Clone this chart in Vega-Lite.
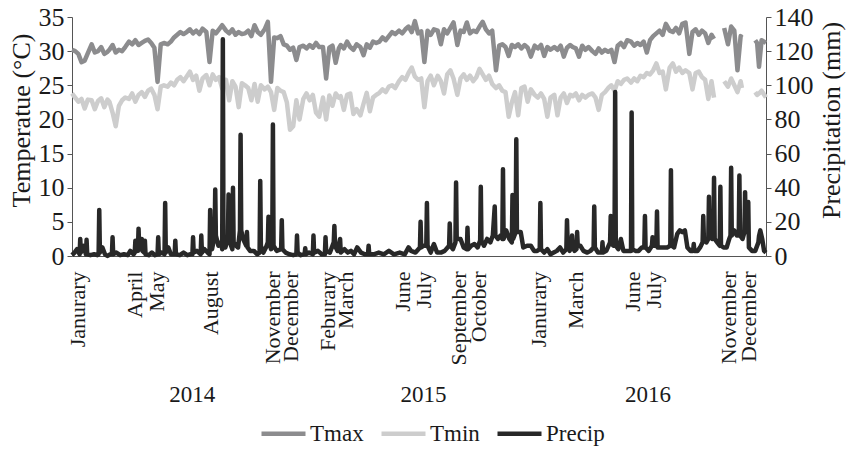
{
 "$schema": "https://vega.github.io/schema/vega-lite/v6.json",
 "width": 694,
 "height": 239,
 "autosize": {"type": "none"},
 "padding": {"left": 72, "top": 17, "right": 85, "bottom": 193},
 "background": "white",
 "config": {
  "view": {"stroke": null},
  "font": "Liberation Serif",
  "axis": {"labelFont": "Liberation Serif", "titleFont": "Liberation Serif", "labelColor": "#1a1a1a", "titleColor": "#1a1a1a", "titleFontWeight": "normal", "domainColor": "#555555", "tickColor": "#555555", "grid": false},
  "legend": {"labelFont": "Liberation Serif", "labelFontSize": 23, "labelColor": "#1a1a1a"}
 },
 "datasets": {
  "temp": [
   {"date":"2014-01-01","Tmax":30.2,"Tmin":23.8},{"date":"2014-01-06","Tmax":30.0,"Tmin":23.2},{"date":"2014-01-11","Tmax":29.6,"Tmin":22.6},{"date":"2014-01-16","Tmax":28.4,"Tmin":23.0},{"date":"2014-01-21","Tmax":28.6,"Tmin":21.6},{"date":"2014-01-26","Tmax":29.7,"Tmin":22.9},
   {"date":"2014-02-01","Tmax":31.0,"Tmin":22.8},{"date":"2014-02-06","Tmax":29.8,"Tmin":21.5},{"date":"2014-02-11","Tmax":30.0,"Tmin":22.7},{"date":"2014-02-16","Tmax":30.6,"Tmin":23.1},{"date":"2014-02-21","Tmax":29.6,"Tmin":21.8},{"date":"2014-02-26","Tmax":29.9,"Tmin":22.9},
   {"date":"2014-03-01","Tmax":30.2,"Tmin":22.6},{"date":"2014-03-06","Tmax":30.9,"Tmin":21.0},{"date":"2014-03-11","Tmax":29.8,"Tmin":19.0},{"date":"2014-03-16","Tmax":30.2,"Tmin":22.0},{"date":"2014-03-21","Tmax":30.0,"Tmin":22.8},{"date":"2014-03-26","Tmax":30.6,"Tmin":23.2},
   {"date":"2014-04-01","Tmax":31.4,"Tmin":23.0},{"date":"2014-04-06","Tmax":31.0,"Tmin":23.8},{"date":"2014-04-11","Tmax":31.6,"Tmin":22.6},{"date":"2014-04-16","Tmax":30.9,"Tmin":23.6},{"date":"2014-04-21","Tmax":31.2,"Tmin":24.0},{"date":"2014-04-26","Tmax":31.5,"Tmin":23.3},
   {"date":"2014-05-01","Tmax":31.7,"Tmin":24.2},{"date":"2014-05-06","Tmax":31.2,"Tmin":24.5},{"date":"2014-05-11","Tmax":30.5,"Tmin":23.6},{"date":"2014-05-16","Tmax":25.5,"Tmin":21.5},{"date":"2014-05-21","Tmax":31.0,"Tmin":24.8},{"date":"2014-05-26","Tmax":31.2,"Tmin":25.0},
   {"date":"2014-06-01","Tmax":31.0,"Tmin":24.8},{"date":"2014-06-06","Tmax":31.4,"Tmin":25.4},{"date":"2014-06-11","Tmax":32.0,"Tmin":25.0},{"date":"2014-06-16","Tmax":32.4,"Tmin":25.8},{"date":"2014-06-21","Tmax":32.8,"Tmin":26.2},{"date":"2014-06-26","Tmax":32.5,"Tmin":25.6},
   {"date":"2014-07-01","Tmax":32.8,"Tmin":26.3},{"date":"2014-07-06","Tmax":33.2,"Tmin":27.0},{"date":"2014-07-11","Tmax":32.6,"Tmin":25.8},{"date":"2014-07-16","Tmax":33.0,"Tmin":26.4},{"date":"2014-07-21","Tmax":32.5,"Tmin":24.2},{"date":"2014-07-26","Tmax":33.3,"Tmin":26.0},
   {"date":"2014-08-01","Tmax":32.8,"Tmin":26.5},{"date":"2014-08-06","Tmax":28.4,"Tmin":25.0},{"date":"2014-08-11","Tmax":33.0,"Tmin":26.6},{"date":"2014-08-16","Tmax":32.6,"Tmin":25.8},{"date":"2014-08-21","Tmax":33.2,"Tmin":26.2},{"date":"2014-08-26","Tmax":33.8,"Tmin":24.5},
   {"date":"2014-09-01","Tmax":33.0,"Tmin":25.8},{"date":"2014-09-06","Tmax":32.6,"Tmin":22.8},{"date":"2014-09-11","Tmax":33.2,"Tmin":25.6},{"date":"2014-09-16","Tmax":32.4,"Tmin":24.8},{"date":"2014-09-21","Tmax":32.8,"Tmin":21.8},{"date":"2014-09-26","Tmax":32.5,"Tmin":25.3},
   {"date":"2014-10-01","Tmax":32.6,"Tmin":25.0},{"date":"2014-10-06","Tmax":33.0,"Tmin":24.6},{"date":"2014-10-11","Tmax":32.2,"Tmin":22.8},{"date":"2014-10-16","Tmax":33.8,"Tmin":25.2},{"date":"2014-10-21","Tmax":32.8,"Tmin":22.6},{"date":"2014-10-26","Tmax":32.4,"Tmin":25.0},
   {"date":"2014-11-01","Tmax":33.2,"Tmin":24.4},{"date":"2014-11-06","Tmax":34.3,"Tmin":24.8},{"date":"2014-11-11","Tmax":25.5,"Tmin":24.0},{"date":"2014-11-16","Tmax":32.0,"Tmin":21.4},{"date":"2014-11-21","Tmax":31.9,"Tmin":24.6},{"date":"2014-11-26","Tmax":32.2,"Tmin":24.2},
   {"date":"2014-12-01","Tmax":31.0,"Tmin":24.0},{"date":"2014-12-06","Tmax":30.8,"Tmin":22.5},{"date":"2014-12-11","Tmax":30.2,"Tmin":18.5},{"date":"2014-12-16","Tmax":30.5,"Tmin":19.0},{"date":"2014-12-21","Tmax":28.7,"Tmin":22.8},{"date":"2014-12-26","Tmax":30.6,"Tmin":20.0},
   {"date":"2015-01-01","Tmax":30.8,"Tmin":23.0},{"date":"2015-01-06","Tmax":30.4,"Tmin":23.8},{"date":"2015-01-11","Tmax":30.9,"Tmin":22.8},{"date":"2015-01-16","Tmax":30.5,"Tmin":23.6},{"date":"2015-01-21","Tmax":31.2,"Tmin":21.0},{"date":"2015-01-26","Tmax":30.6,"Tmin":20.4},
   {"date":"2015-02-01","Tmax":30.6,"Tmin":23.2},{"date":"2015-02-06","Tmax":26.0,"Tmin":20.0},{"date":"2015-02-11","Tmax":30.5,"Tmin":23.5},{"date":"2015-02-16","Tmax":30.8,"Tmin":22.0},{"date":"2015-02-21","Tmax":28.3,"Tmin":23.8},{"date":"2015-02-26","Tmax":30.4,"Tmin":23.2},
   {"date":"2015-03-01","Tmax":30.9,"Tmin":23.4},{"date":"2015-03-06","Tmax":30.4,"Tmin":21.4},{"date":"2015-03-11","Tmax":31.4,"Tmin":23.6},{"date":"2015-03-16","Tmax":30.6,"Tmin":23.8},{"date":"2015-03-21","Tmax":30.2,"Tmin":20.8},{"date":"2015-03-26","Tmax":31.0,"Tmin":21.5},
   {"date":"2015-04-01","Tmax":30.6,"Tmin":20.6},{"date":"2015-04-06","Tmax":29.4,"Tmin":22.3},{"date":"2015-04-11","Tmax":31.0,"Tmin":23.9},{"date":"2015-04-16","Tmax":30.5,"Tmin":21.2},{"date":"2015-04-21","Tmax":31.4,"Tmin":23.2},{"date":"2015-04-26","Tmax":31.2,"Tmin":23.6},
   {"date":"2015-05-01","Tmax":31.4,"Tmin":23.9},{"date":"2015-05-06","Tmax":32.0,"Tmin":24.4},{"date":"2015-05-11","Tmax":31.6,"Tmin":24.0},{"date":"2015-05-16","Tmax":32.2,"Tmin":24.8},{"date":"2015-05-21","Tmax":32.8,"Tmin":25.0},{"date":"2015-05-26","Tmax":32.5,"Tmin":24.6},
   {"date":"2015-06-01","Tmax":33.0,"Tmin":25.6},{"date":"2015-06-06","Tmax":32.6,"Tmin":26.2},{"date":"2015-06-11","Tmax":33.2,"Tmin":25.8},{"date":"2015-06-16","Tmax":33.6,"Tmin":26.8},{"date":"2015-06-21","Tmax":32.8,"Tmin":27.6},{"date":"2015-06-26","Tmax":34.4,"Tmin":26.3},
   {"date":"2015-07-01","Tmax":32.6,"Tmin":25.8},{"date":"2015-07-06","Tmax":32.9,"Tmin":26.0},{"date":"2015-07-11","Tmax":28.4,"Tmin":21.8},{"date":"2015-07-16","Tmax":33.0,"Tmin":25.6},{"date":"2015-07-21","Tmax":32.4,"Tmin":26.4},{"date":"2015-07-26","Tmax":33.2,"Tmin":25.0},
   {"date":"2015-08-01","Tmax":33.0,"Tmin":26.4},{"date":"2015-08-06","Tmax":31.0,"Tmin":25.6},{"date":"2015-08-11","Tmax":33.2,"Tmin":23.8},{"date":"2015-08-16","Tmax":32.6,"Tmin":26.6},{"date":"2015-08-21","Tmax":33.4,"Tmin":27.2},{"date":"2015-08-26","Tmax":34.2,"Tmin":26.0},
   {"date":"2015-09-01","Tmax":30.9,"Tmin":23.6},{"date":"2015-09-06","Tmax":33.0,"Tmin":26.0},{"date":"2015-09-11","Tmax":32.8,"Tmin":26.6},{"date":"2015-09-16","Tmax":34.2,"Tmin":25.8},{"date":"2015-09-21","Tmax":32.6,"Tmin":26.4},{"date":"2015-09-26","Tmax":33.0,"Tmin":25.6},
   {"date":"2015-10-01","Tmax":32.8,"Tmin":26.2},{"date":"2015-10-06","Tmax":33.6,"Tmin":27.4},{"date":"2015-10-11","Tmax":34.3,"Tmin":26.6},{"date":"2015-10-16","Tmax":33.2,"Tmin":25.8},{"date":"2015-10-21","Tmax":32.6,"Tmin":26.4},{"date":"2015-10-26","Tmax":33.0,"Tmin":25.2},
   {"date":"2015-11-01","Tmax":27.2,"Tmin":24.6},{"date":"2015-11-06","Tmax":30.8,"Tmin":25.0},{"date":"2015-11-11","Tmax":31.0,"Tmin":24.2},{"date":"2015-11-16","Tmax":30.6,"Tmin":24.0},{"date":"2015-11-21","Tmax":29.3,"Tmin":20.4},{"date":"2015-11-26","Tmax":30.9,"Tmin":22.5},
   {"date":"2015-12-01","Tmax":30.6,"Tmin":24.0},{"date":"2015-12-06","Tmax":31.0,"Tmin":20.6},{"date":"2015-12-11","Tmax":30.4,"Tmin":24.6},{"date":"2015-12-16","Tmax":30.9,"Tmin":24.8},{"date":"2015-12-21","Tmax":30.5,"Tmin":22.6},{"date":"2015-12-26","Tmax":29.2,"Tmin":24.4},
   {"date":"2016-01-01","Tmax":30.8,"Tmin":23.6},{"date":"2016-01-06","Tmax":30.4,"Tmin":23.2},{"date":"2016-01-11","Tmax":30.9,"Tmin":23.8},{"date":"2016-01-16","Tmax":29.3,"Tmin":23.0},{"date":"2016-01-21","Tmax":30.6,"Tmin":20.4},{"date":"2016-01-26","Tmax":30.2,"Tmin":23.2},
   {"date":"2016-02-01","Tmax":30.6,"Tmin":23.6},{"date":"2016-02-06","Tmax":30.2,"Tmin":20.6},{"date":"2016-02-11","Tmax":30.8,"Tmin":23.2},{"date":"2016-02-16","Tmax":29.2,"Tmin":23.8},{"date":"2016-02-21","Tmax":30.5,"Tmin":22.4},{"date":"2016-02-26","Tmax":30.9,"Tmin":23.6},
   {"date":"2016-03-01","Tmax":30.6,"Tmin":23.4},{"date":"2016-03-06","Tmax":30.4,"Tmin":23.8},{"date":"2016-03-11","Tmax":29.2,"Tmin":22.8},{"date":"2016-03-16","Tmax":30.8,"Tmin":23.6},{"date":"2016-03-21","Tmax":30.2,"Tmin":23.2},{"date":"2016-03-26","Tmax":30.6,"Tmin":23.6},
   {"date":"2016-04-01","Tmax":30.0,"Tmin":23.8},{"date":"2016-04-06","Tmax":29.6,"Tmin":23.2},{"date":"2016-04-11","Tmax":30.4,"Tmin":21.4},{"date":"2016-04-16","Tmax":29.8,"Tmin":23.6},{"date":"2016-04-21","Tmax":30.2,"Tmin":24.0},{"date":"2016-04-26","Tmax":29.9,"Tmin":24.6},
   {"date":"2016-05-01","Tmax":30.2,"Tmin":25.0},{"date":"2016-05-06","Tmax":28.4,"Tmin":24.2},{"date":"2016-05-11","Tmax":30.8,"Tmin":25.6},{"date":"2016-05-16","Tmax":31.2,"Tmin":25.2},{"date":"2016-05-21","Tmax":30.6,"Tmin":25.8},{"date":"2016-05-26","Tmax":31.6,"Tmin":26.0},
   {"date":"2016-06-01","Tmax":31.4,"Tmin":25.4},{"date":"2016-06-06","Tmax":30.8,"Tmin":26.0},{"date":"2016-06-11","Tmax":31.2,"Tmin":25.6},{"date":"2016-06-16","Tmax":30.9,"Tmin":26.4},{"date":"2016-06-21","Tmax":31.4,"Tmin":26.2},{"date":"2016-06-26","Tmax":29.8,"Tmin":26.8},
   {"date":"2016-07-01","Tmax":31.6,"Tmin":26.6},{"date":"2016-07-06","Tmax":32.2,"Tmin":27.2},{"date":"2016-07-11","Tmax":32.6,"Tmin":28.2},{"date":"2016-07-16","Tmax":33.0,"Tmin":26.8},{"date":"2016-07-21","Tmax":32.4,"Tmin":27.0},{"date":"2016-07-26","Tmax":34.0,"Tmin":24.4},
   {"date":"2016-08-01","Tmax":33.0,"Tmin":27.6},{"date":"2016-08-06","Tmax":32.8,"Tmin":28.2},{"date":"2016-08-11","Tmax":33.4,"Tmin":27.0},{"date":"2016-08-16","Tmax":32.6,"Tmin":27.6},{"date":"2016-08-21","Tmax":34.0,"Tmin":26.8},{"date":"2016-08-26","Tmax":34.2,"Tmin":27.2},
   {"date":"2016-09-01","Tmax":29.6,"Tmin":26.8},{"date":"2016-09-06","Tmax":32.8,"Tmin":24.4},{"date":"2016-09-11","Tmax":33.2,"Tmin":26.8},{"date":"2016-09-16","Tmax":32.4,"Tmin":27.0},{"date":"2016-09-21","Tmax":33.0,"Tmin":26.2},{"date":"2016-09-26","Tmax":32.6,"Tmin":25.8},
   {"date":"2016-10-01","Tmax":31.2,"Tmin":23.0},{"date":"2016-10-06","Tmax":32.4,"Tmin":25.6},{"date":"2016-10-10","Tmax":31.8,"Tmin":23.2},{"date":"2016-10-11","Tmax":null,"Tmin":null},{"date":"2016-10-21","Tmax":null,"Tmin":null},{"date":"2016-10-26","Tmax":33.4,"Tmin":25.6},
   {"date":"2016-11-01","Tmax":31.0,"Tmin":24.8},{"date":"2016-11-06","Tmax":33.6,"Tmin":26.0},{"date":"2016-11-11","Tmax":33.0,"Tmin":25.0},{"date":"2016-11-16","Tmax":27.2,"Tmin":24.0},{"date":"2016-11-21","Tmax":32.2,"Tmin":25.6},{"date":"2016-11-23","Tmax":32.0,"Tmin":24.6},{"date":"2016-11-24","Tmax":null,"Tmin":null},
   {"date":"2016-12-13","Tmax":null,"Tmin":null},{"date":"2016-12-14","Tmax":31.6,"Tmin":24.0},{"date":"2016-12-17","Tmax":31.2,"Tmin":23.6},{"date":"2016-12-20","Tmax":27.7,"Tmin":23.8},{"date":"2016-12-24","Tmax":31.6,"Tmin":24.2},{"date":"2016-12-31","Tmax":31.2,"Tmin":23.2}
  ],
  "precip": [
   {"date":"2014-01-01","Precip":0.5},{"date":"2014-01-05","Precip":2},{"date":"2014-01-09","Precip":4},{"date":"2014-01-13","Precip":1},{"date":"2014-01-14","Precip":10},{"date":"2014-01-15","Precip":2},{"date":"2014-01-19","Precip":6},{"date":"2014-01-23","Precip":1},{"date":"2014-01-24","Precip":9.5},{"date":"2014-01-25","Precip":1},{"date":"2014-01-30","Precip":0.5},
   {"date":"2014-02-05","Precip":1},{"date":"2014-02-10","Precip":0.5},{"date":"2014-02-12","Precip":1},{"date":"2014-02-13","Precip":27},{"date":"2014-02-14","Precip":2},{"date":"2014-02-18","Precip":5},{"date":"2014-02-22","Precip":1},{"date":"2014-02-26","Precip":0},
   {"date":"2014-03-02","Precip":1},{"date":"2014-03-05","Precip":1},{"date":"2014-03-06","Precip":11},{"date":"2014-03-07","Precip":1},{"date":"2014-03-12","Precip":2},{"date":"2014-03-18","Precip":0.5},{"date":"2014-03-24","Precip":1},{"date":"2014-03-30","Precip":0.5},
   {"date":"2014-04-03","Precip":3},{"date":"2014-04-08","Precip":1},{"date":"2014-04-10","Precip":2},{"date":"2014-04-11","Precip":9},{"date":"2014-04-13","Precip":7},{"date":"2014-04-15","Precip":3},{"date":"2014-04-16","Precip":16},{"date":"2014-04-17","Precip":5},{"date":"2014-04-20","Precip":4},{"date":"2014-04-21","Precip":10},{"date":"2014-04-22","Precip":3},{"date":"2014-04-25","Precip":2},{"date":"2014-04-26","Precip":9},{"date":"2014-04-27","Precip":1},
   {"date":"2014-05-02","Precip":0.5},{"date":"2014-05-07","Precip":2},{"date":"2014-05-12","Precip":0.5},{"date":"2014-05-16","Precip":1},{"date":"2014-05-17","Precip":11},{"date":"2014-05-18","Precip":1},{"date":"2014-05-22","Precip":2},{"date":"2014-05-27","Precip":1},{"date":"2014-05-28","Precip":31},{"date":"2014-05-29","Precip":2},
   {"date":"2014-06-02","Precip":5},{"date":"2014-06-06","Precip":1},{"date":"2014-06-12","Precip":1},{"date":"2014-06-13","Precip":9},{"date":"2014-06-14","Precip":1},{"date":"2014-06-20","Precip":0.5},{"date":"2014-06-26","Precip":2},
   {"date":"2014-07-02","Precip":0.5},{"date":"2014-07-07","Precip":1},{"date":"2014-07-10","Precip":1},{"date":"2014-07-11","Precip":11},{"date":"2014-07-12","Precip":2},{"date":"2014-07-17","Precip":3},{"date":"2014-07-23","Precip":1},{"date":"2014-07-24","Precip":12},{"date":"2014-07-25","Precip":2},{"date":"2014-07-29","Precip":4},
   {"date":"2014-08-03","Precip":2},{"date":"2014-08-06","Precip":1},{"date":"2014-08-07","Precip":27},{"date":"2014-08-08","Precip":10},{"date":"2014-08-10","Precip":4},{"date":"2014-08-14","Precip":12},{"date":"2014-08-15","Precip":39},{"date":"2014-08-16","Precip":12},{"date":"2014-08-20","Precip":6},{"date":"2014-08-24","Precip":8},{"date":"2014-08-26","Precip":4},{"date":"2014-08-27","Precip":127},{"date":"2014-08-28","Precip":8},{"date":"2014-08-31","Precip":5},
   {"date":"2014-09-04","Precip":10},{"date":"2014-09-05","Precip":36},{"date":"2014-09-06","Precip":10},{"date":"2014-09-09","Precip":6},{"date":"2014-09-11","Precip":4},{"date":"2014-09-12","Precip":40},{"date":"2014-09-13","Precip":8},{"date":"2014-09-17","Precip":6},{"date":"2014-09-20","Precip":5},{"date":"2014-09-23","Precip":15},{"date":"2014-09-24","Precip":71},{"date":"2014-09-25","Precip":15},{"date":"2014-09-28","Precip":10},
   {"date":"2014-10-03","Precip":6},{"date":"2014-10-04","Precip":14},{"date":"2014-10-05","Precip":5},{"date":"2014-10-09","Precip":3},{"date":"2014-10-15","Precip":3},{"date":"2014-10-20","Precip":1},{"date":"2014-10-24","Precip":2},{"date":"2014-10-25","Precip":44},{"date":"2014-10-26","Precip":6},{"date":"2014-10-30","Precip":2},
   {"date":"2014-11-03","Precip":5},{"date":"2014-11-06","Precip":8},{"date":"2014-11-07","Precip":23},{"date":"2014-11-08","Precip":8},{"date":"2014-11-11","Precip":4},{"date":"2014-11-13","Precip":6},{"date":"2014-11-14","Precip":77},{"date":"2014-11-15","Precip":6},{"date":"2014-11-20","Precip":3},{"date":"2014-11-27","Precip":4},{"date":"2014-11-28","Precip":21},{"date":"2014-11-29","Precip":4},
   {"date":"2014-12-04","Precip":2},{"date":"2014-12-10","Precip":1},{"date":"2014-12-16","Precip":0.5},{"date":"2014-12-21","Precip":1},{"date":"2014-12-22","Precip":12},{"date":"2014-12-23","Precip":2},{"date":"2014-12-28","Precip":0.5},
   {"date":"2015-01-01","Precip":1},{"date":"2015-01-03","Precip":1},{"date":"2015-01-04","Precip":4.5},{"date":"2015-01-05","Precip":1},{"date":"2015-01-10","Precip":2},{"date":"2015-01-16","Precip":1},{"date":"2015-01-17","Precip":12},{"date":"2015-01-18","Precip":2},{"date":"2015-01-24","Precip":3},{"date":"2015-01-30","Precip":1},
   {"date":"2015-02-04","Precip":1},{"date":"2015-02-05","Precip":11},{"date":"2015-02-06","Precip":3},{"date":"2015-02-12","Precip":2},{"date":"2015-02-18","Precip":8},{"date":"2015-02-19","Precip":17.6},{"date":"2015-02-20","Precip":6},{"date":"2015-02-24","Precip":3},{"date":"2015-02-28","Precip":10},
   {"date":"2015-03-01","Precip":2},{"date":"2015-03-07","Precip":4},{"date":"2015-03-12","Precip":2},{"date":"2015-03-17","Precip":3},{"date":"2015-03-22","Precip":1},{"date":"2015-03-27","Precip":5},
   {"date":"2015-04-02","Precip":2},{"date":"2015-04-08","Precip":1},{"date":"2015-04-13","Precip":1},{"date":"2015-04-14","Precip":6},{"date":"2015-04-15","Precip":1},{"date":"2015-04-22","Precip":1},{"date":"2015-04-30","Precip":2},
   {"date":"2015-05-08","Precip":1},{"date":"2015-05-16","Precip":3},{"date":"2015-05-24","Precip":1},
   {"date":"2015-06-02","Precip":2},{"date":"2015-06-10","Precip":1},{"date":"2015-06-16","Precip":5},{"date":"2015-06-20","Precip":3},{"date":"2015-06-27","Precip":2},
   {"date":"2015-07-04","Precip":5},{"date":"2015-07-05","Precip":20},{"date":"2015-07-06","Precip":5},{"date":"2015-07-10","Precip":6},{"date":"2015-07-14","Precip":6},{"date":"2015-07-15","Precip":31},{"date":"2015-07-16","Precip":6},{"date":"2015-07-21","Precip":2},{"date":"2015-07-26","Precip":7},{"date":"2015-07-31","Precip":2},
   {"date":"2015-08-06","Precip":2},{"date":"2015-08-12","Precip":3},{"date":"2015-08-19","Precip":6},{"date":"2015-08-20","Precip":19},{"date":"2015-08-21","Precip":6},{"date":"2015-08-25","Precip":4},{"date":"2015-08-29","Precip":8},{"date":"2015-08-30","Precip":43},{"date":"2015-08-31","Precip":10},
   {"date":"2015-09-06","Precip":10},{"date":"2015-09-11","Precip":5},{"date":"2015-09-16","Precip":4},{"date":"2015-09-17","Precip":16.5},{"date":"2015-09-18","Precip":4},{"date":"2015-09-23","Precip":6},{"date":"2015-09-28","Precip":7},
   {"date":"2015-10-03","Precip":5},{"date":"2015-10-07","Precip":9},{"date":"2015-10-08","Precip":40.6},{"date":"2015-10-09","Precip":9},{"date":"2015-10-13","Precip":6},{"date":"2015-10-18","Precip":10},{"date":"2015-10-23","Precip":8},{"date":"2015-10-27","Precip":12},{"date":"2015-10-30","Precip":29},{"date":"2015-10-31","Precip":12},
   {"date":"2015-11-04","Precip":10},{"date":"2015-11-08","Precip":12},{"date":"2015-11-11","Precip":10},{"date":"2015-11-12","Precip":50.8},{"date":"2015-11-13","Precip":10},{"date":"2015-11-17","Precip":15},{"date":"2015-11-22","Precip":10},{"date":"2015-11-26","Precip":8},{"date":"2015-11-27","Precip":35.7},{"date":"2015-11-28","Precip":10},
   {"date":"2015-12-02","Precip":14},{"date":"2015-12-03","Precip":68.4},{"date":"2015-12-04","Precip":14},{"date":"2015-12-10","Precip":14},{"date":"2015-12-14","Precip":5},{"date":"2015-12-20","Precip":6},{"date":"2015-12-26","Precip":6},{"date":"2015-12-31","Precip":3},
   {"date":"2016-01-05","Precip":3},{"date":"2016-01-09","Precip":4},{"date":"2016-01-10","Precip":31},{"date":"2016-01-11","Precip":4},{"date":"2016-01-16","Precip":2},{"date":"2016-01-21","Precip":4},{"date":"2016-01-26","Precip":1},{"date":"2016-01-31","Precip":2},
   {"date":"2016-02-05","Precip":3},{"date":"2016-02-10","Precip":5},{"date":"2016-02-15","Precip":2},{"date":"2016-02-20","Precip":4},{"date":"2016-02-21","Precip":21},{"date":"2016-02-22","Precip":8},{"date":"2016-02-25","Precip":3},{"date":"2016-02-28","Precip":5},{"date":"2016-02-29","Precip":12},
   {"date":"2016-03-01","Precip":5},{"date":"2016-03-04","Precip":3},{"date":"2016-03-07","Precip":4},{"date":"2016-03-08","Precip":14},{"date":"2016-03-09","Precip":6},{"date":"2016-03-13","Precip":6},{"date":"2016-03-18","Precip":3},{"date":"2016-03-24","Precip":2},{"date":"2016-03-29","Precip":3},
   {"date":"2016-04-03","Precip":5},{"date":"2016-04-04","Precip":29},{"date":"2016-04-05","Precip":5},{"date":"2016-04-10","Precip":2},{"date":"2016-04-16","Precip":2},{"date":"2016-04-17","Precip":8},{"date":"2016-04-18","Precip":2},{"date":"2016-04-23","Precip":3},{"date":"2016-04-29","Precip":8},{"date":"2016-04-30","Precip":23.4},
   {"date":"2016-05-01","Precip":8},{"date":"2016-05-04","Precip":6},{"date":"2016-05-06","Precip":6},{"date":"2016-05-07","Precip":96},{"date":"2016-05-08","Precip":6},{"date":"2016-05-12","Precip":4},{"date":"2016-05-16","Precip":10},{"date":"2016-05-20","Precip":3},{"date":"2016-05-26","Precip":3},
   {"date":"2016-06-01","Precip":3},{"date":"2016-06-02","Precip":84},{"date":"2016-06-03","Precip":4},{"date":"2016-06-08","Precip":3},{"date":"2016-06-13","Precip":3},{"date":"2016-06-18","Precip":5},{"date":"2016-06-22","Precip":5},{"date":"2016-06-23","Precip":23.4},{"date":"2016-06-24","Precip":5},{"date":"2016-06-29","Precip":3},
   {"date":"2016-07-04","Precip":6},{"date":"2016-07-05","Precip":11},{"date":"2016-07-06","Precip":6},{"date":"2016-07-11","Precip":6},{"date":"2016-07-12","Precip":26},{"date":"2016-07-13","Precip":5},{"date":"2016-07-18","Precip":5},{"date":"2016-07-23","Precip":5},{"date":"2016-07-28","Precip":5},
   {"date":"2016-08-02","Precip":6},{"date":"2016-08-03","Precip":50.3},{"date":"2016-08-04","Precip":6},{"date":"2016-08-08","Precip":5},{"date":"2016-08-13","Precip":13},{"date":"2016-08-17","Precip":15},{"date":"2016-08-21","Precip":14},{"date":"2016-08-25","Precip":15},{"date":"2016-08-29","Precip":5},
   {"date":"2016-09-03","Precip":3},{"date":"2016-09-07","Precip":3},{"date":"2016-09-08","Precip":7},{"date":"2016-09-09","Precip":3},{"date":"2016-09-14","Precip":3},{"date":"2016-09-18","Precip":5},{"date":"2016-09-22","Precip":8},{"date":"2016-09-23","Precip":23.4},{"date":"2016-09-24","Precip":10},{"date":"2016-09-28","Precip":8},
   {"date":"2016-10-01","Precip":10},{"date":"2016-10-02","Precip":34.7},{"date":"2016-10-03","Precip":12},{"date":"2016-10-07","Precip":10},{"date":"2016-10-09","Precip":12},{"date":"2016-10-10","Precip":45.8},{"date":"2016-10-11","Precip":10},{"date":"2016-10-15","Precip":8},{"date":"2016-10-19","Precip":6},{"date":"2016-10-20","Precip":40.5},{"date":"2016-10-21","Precip":6},{"date":"2016-10-25","Precip":5},{"date":"2016-10-30","Precip":5},
   {"date":"2016-11-03","Precip":10},{"date":"2016-11-05","Precip":12},{"date":"2016-11-06","Precip":51.7},{"date":"2016-11-07","Precip":12},{"date":"2016-11-11","Precip":15},{"date":"2016-11-15","Precip":12},{"date":"2016-11-18","Precip":12},{"date":"2016-11-19","Precip":47.2},{"date":"2016-11-20","Precip":12},{"date":"2016-11-24","Precip":10},{"date":"2016-11-27","Precip":14},{"date":"2016-11-28","Precip":37.4},{"date":"2016-11-29","Precip":14},
   {"date":"2016-12-02","Precip":14},{"date":"2016-12-03","Precip":31.6},{"date":"2016-12-04","Precip":5},{"date":"2016-12-09","Precip":3},{"date":"2016-12-14","Precip":3},{"date":"2016-12-19","Precip":8},{"date":"2016-12-20","Precip":11.7},{"date":"2016-12-22","Precip":15},{"date":"2016-12-25","Precip":10},{"date":"2016-12-28","Precip":3},{"date":"2016-12-31","Precip":2}
  ]
 },
 "layer": [
  {
   "data": {"name": "temp"},
   "transform": [{"fold": ["Tmax", "Tmin"], "as": ["series", "value"]}],
   "mark": {"type": "line", "strokeWidth": 4.5, "strokeJoin": "round"},
   "encoding": {
    "x": {"field": "date", "type": "temporal",
     "scale": {"type": "utc", "domain": [{"year": 2014, "month": 1, "date": 1, "utc": true}, {"year": 2016, "month": 12, "date": 31, "utc": true}]},
     "axis": {"title": null, "orient": "bottom",
      "values": [{"year":2014,"month":1,"date":9,"utc":true},{"year":2014,"month":4,"date":9,"utc":true},{"year":2014,"month":5,"date":15,"utc":true},{"year":2014,"month":8,"date":7,"utc":true},{"year":2014,"month":11,"date":13,"utc":true},{"year":2014,"month":12,"date":11,"utc":true},{"year":2015,"month":2,"date":8,"utc":true},{"year":2015,"month":3,"date":8,"utc":true},{"year":2015,"month":6,"date":6,"utc":true},{"year":2015,"month":7,"date":9,"utc":true},{"year":2015,"month":9,"date":3,"utc":true},{"year":2015,"month":10,"date":4,"utc":true},{"year":2016,"month":1,"date":7,"utc":true},{"year":2016,"month":3,"date":5,"utc":true},{"year":2016,"month":6,"date":3,"utc":true},{"year":2016,"month":7,"date":7,"utc":true},{"year":2016,"month":11,"date":2,"utc":true},{"year":2016,"month":12,"date":4,"utc":true}],
      "labelExpr": "['Janurary','Feburary','March','April','May','June','July','August','September','October','November','December'][utcmonth(datum.value)]",
      "labelAngle": -90, "labelFontSize": 22, "labelPadding": 15, "ticks": false, "tickSize": 0, "labelOverlap": false, "labelFlush": false, "labelBound": false}},
    "y": {"field": "value", "type": "quantitative",
     "scale": {"domain": [0, 35], "nice": false, "zero": true},
     "axis": {"title": "Temperatue (°C)", "values": [0, 5, 10, 15, 20, 25, 30, 35], "labelFontSize": 26, "titleFontSize": 26, "tickSize": 5, "labelPadding": 3, "titlePadding": 4, "titleY": 103}},
    "color": {"field": "series", "type": "nominal",
     "scale": {"domain": ["Tmax", "Tmin", "Precip"], "range": ["#8c8c8e", "#cdcdcd", "#282828"]},
     "legend": {"title": null, "orient": "none", "legendX": 187, "legendY": 392, "direction": "horizontal", "symbolType": "stroke", "symbolStrokeWidth": 4.5, "symbolSize": 1936, "labelOffset": 2, "columnPadding": 8, "labelFontSize": 23}}
   }
  },
  {
   "data": {"name": "precip"},
   "transform": [{"fold": ["Precip"], "as": ["series", "value"]}],
   "mark": {"type": "line", "strokeWidth": 4.5, "strokeJoin": "round"},
   "encoding": {
    "x": {"field": "date", "type": "temporal",
     "scale": {"type": "utc", "domain": [{"year": 2014, "month": 1, "date": 1, "utc": true}, {"year": 2016, "month": 12, "date": 31, "utc": true}]},
     "axis": {"title": null, "orient": "bottom", "offset": 125, "domain": false, "ticks": false, "tickSize": 0, "labelPadding": 2, "labelFontSize": 23, "labelAngle": 0, "labelFlush": false, "labelOverlap": false,
      "values": [{"year":2014,"month":7,"date":9,"utc":true},{"year":2015,"month":7,"date":9,"utc":true},{"year":2016,"month":6,"date":27,"utc":true}],
      "labelExpr": "'' + utcyear(datum.value)"}},
    "y": {"field": "value", "type": "quantitative",
     "scale": {"domain": [0, 140], "nice": false},
     "axis": {"orient": "right", "title": "Precipitation (mm)", "titleAngle": 270, "titleBaseline": "top", "values": [0, 20, 40, 60, 80, 100, 120, 140], "labelFontSize": 26, "titleFontSize": 26, "tickSize": 5, "labelPadding": 3, "titlePadding": 5, "titleY": 103}},
    "color": {"field": "series", "type": "nominal",
     "scale": {"domain": ["Tmax", "Tmin", "Precip"], "range": ["#8c8c8e", "#cdcdcd", "#282828"]},
     "legend": {"title": null, "orient": "none", "legendX": 187, "legendY": 392, "direction": "horizontal", "symbolType": "stroke", "symbolStrokeWidth": 4.5, "symbolSize": 1936, "labelOffset": 2, "columnPadding": 8, "labelFontSize": 23}}
   }
  }
 ],
 "resolve": {"scale": {"y": "independent"}, "axis": {"x": "independent"}}
}
